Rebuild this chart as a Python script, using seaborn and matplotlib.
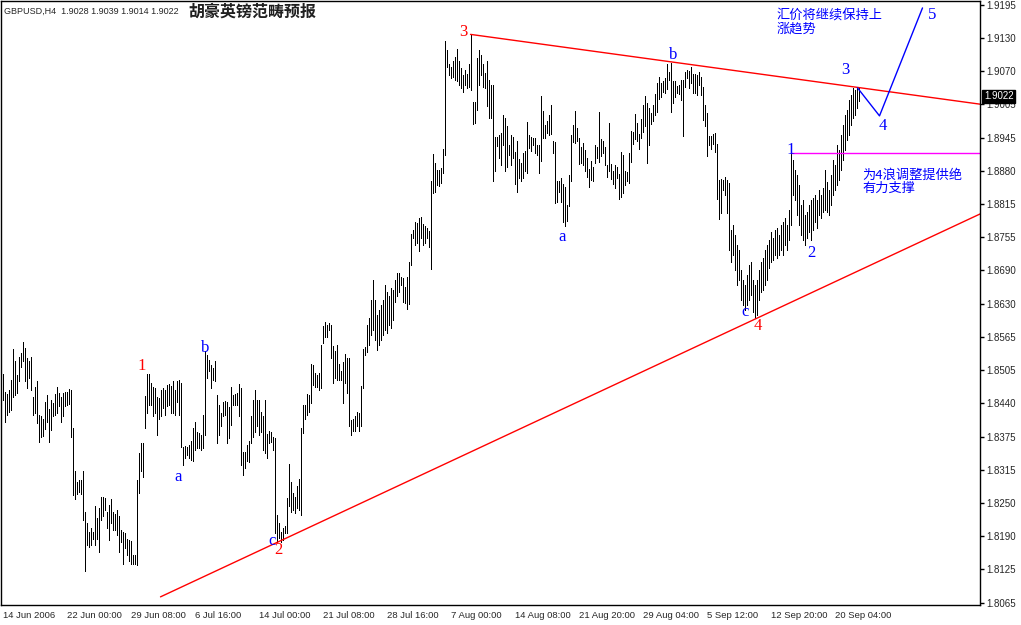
import numpy as np
import matplotlib
matplotlib.use('Agg')
import matplotlib.pyplot as plt
import matplotlib.transforms as mtransforms
import seaborn as sns

# H4 bars, high / low
highs = [
    1.8497, 1.8464, 1.8459, 1.8467, 1.8486, 1.8545, 1.8521, 1.8495, 1.8530, 1.8536,
    1.8558, 1.8546, 1.8528, 1.8521, 1.8529, 1.8454, 1.8473, 1.8484, 1.8419, 1.8417,
    1.8412, 1.8445, 1.8458, 1.8431, 1.8448, 1.8442, 1.8459, 1.8473, 1.8461, 1.8454,
    1.8461, 1.8463, 1.8463, 1.8469, 1.8467, 1.8395, 1.8314, 1.8294, 1.8297, 1.8297,
    1.8314, 1.8237, 1.8215, 1.8199, 1.8207, 1.8199, 1.8247, 1.8225, 1.8243, 1.8265,
    1.8265, 1.8262, 1.8237, 1.8250, 1.8261, 1.8237, 1.8233, 1.8240, 1.8228, 1.8202,
    1.8198, 1.8196,
    1.8185, 1.8184, 1.8182, 1.8155, 1.8155, 1.8297, 1.8347, 1.8366, 1.8366, 1.8456,
    1.8497, 1.8497, 1.8480, 1.8473, 1.8470, 1.8454, 1.8451, 1.8467, 1.8470, 1.8467,
    1.8477, 1.8478, 1.8475, 1.8483, 1.8467, 1.8483, 1.8486, 1.8480, 1.8360, 1.8362,
    1.8360, 1.8363, 1.8371, 1.8396, 1.8406, 1.8388, 1.8385, 1.8382, 1.8420, 1.8540,
    1.8533, 1.8524, 1.8514, 1.8508, 1.8521, 1.8458, 1.8439, 1.8423, 1.8445, 1.8446,
    1.8445, 1.8435, 1.8473, 1.8458, 1.8459, 1.8461, 1.8478, 1.8470, 1.8350, 1.8350,
    1.8363, 1.8371, 1.8418, 1.8448, 1.8467, 1.8448, 1.8448, 1.8426, 1.8417, 1.8448,
    1.8384, 1.8390, 1.8388, 1.8379, 1.8377, 1.8231, 1.8215, 1.8199, 1.8207, 1.8210,
    1.8262, 1.8328, 1.8294, 1.8272, 1.8265, 1.8286, 1.8298, 1.8396, 1.8439, 1.8439,
    1.8459, 1.8458, 1.8516, 1.8514, 1.8499, 1.8495, 1.8499, 1.8552, 1.8588, 1.8596,
    1.8590, 1.8594, 1.8590, 1.8550, 1.8541, 1.8552, 1.8517, 1.8502, 1.8519, 1.8535,
    1.8527, 1.8527, 1.8410, 1.8413, 1.8417, 1.8426, 1.8424, 1.8475, 1.8544, 1.8549,
    1.8590, 1.8603, 1.8637, 1.8675, 1.8637, 1.8609, 1.8618, 1.8628, 1.8637,
    1.8666, 1.8653, 1.8645, 1.8659, 1.8656, 1.8675, 1.8688, 1.8688, 1.8681, 1.8679,
    1.8662, 1.8681, 1.8708, 1.8761, 1.8770, 1.8785, 1.8782, 1.8792, 1.8793, 1.8780,
    1.8776, 1.8773, 1.8768, 1.8862, 1.8913, 1.8896, 1.8883, 1.8883, 1.8886, 1.8923,
    1.9127, 1.9110, 1.9083, 1.9078, 1.9088, 1.9097, 1.9112, 1.9089, 1.9075, 1.9063,
    1.9072, 1.9064, 1.9083, 1.9139, 1.9011, 1.9012, 1.9094, 1.9110, 1.9100, 1.9083,
    1.9066,
    1.9089, 1.9053, 1.9044, 1.9044, 1.8946, 1.8946, 1.8949, 1.8952, 1.8986, 1.8981,
    1.8965, 1.8930, 1.8949, 1.8946, 1.8916, 1.8937, 1.8904, 1.8896, 1.8914, 1.8918,
    1.8974, 1.8949, 1.8946, 1.8944, 1.8944, 1.8930, 1.8930, 1.9023, 1.8994, 1.8968,
    1.8976, 1.8987, 1.9006, 1.8937, 1.8935, 1.8862, 1.8862, 1.8867, 1.8856, 1.8851,
    1.8817, 1.8873, 1.8948, 1.8968, 1.8994, 1.8963, 1.8943, 1.8927, 1.8933, 1.8921,
    1.8905, 1.8885, 1.8899, 1.8889, 1.8930, 1.8927, 1.8992, 1.8942, 1.8937, 1.8927,
    1.8892, 1.8972, 1.8894, 1.8881, 1.8892, 1.8888, 1.8876, 1.8916, 1.8911, 1.8881,
    1.8878, 1.8914, 1.8957, 1.8955, 1.8989, 1.8972, 1.8951, 1.8980, 1.9006, 1.9023,
    1.9009, 1.8999, 1.8990, 1.9006, 1.9026, 1.9047, 1.9058, 1.9048, 1.9050, 1.9056,
    1.9083, 1.9068, 1.9085, 1.9050, 1.9050, 1.9042, 1.9044, 1.9053, 1.9052, 1.9068,
    1.9072, 1.9070, 1.9077, 1.9065, 1.9064, 1.9062, 1.9067, 1.9058, 1.9039, 1.9006,
    1.8990, 1.8947, 1.8947, 1.8951, 1.8952, 1.8932, 1.8864, 1.8865, 1.8863, 1.8869,
    1.8863, 1.8858,
    1.8769, 1.8779, 1.8760, 1.8741, 1.8731, 1.8694, 1.8675, 1.8665, 1.8684, 1.8703,
    1.8709, 1.8675, 1.8665, 1.8675, 1.8694, 1.8709, 1.8716, 1.8731, 1.8741, 1.8750,
    1.8765, 1.8754, 1.8769, 1.8773, 1.8760, 1.8779, 1.8784, 1.8792, 1.8779, 1.8807,
    1.8915, 1.8902, 1.8883, 1.8873, 1.8854, 1.8817, 1.8826, 1.8798, 1.8803, 1.8817,
    1.8826, 1.8830, 1.8835, 1.8826, 1.8845, 1.8835, 1.8849, 1.8883, 1.8860, 1.8845,
    1.8873, 1.8902, 1.8892, 1.8930, 1.8920, 1.8949, 1.8968, 1.8987, 1.8996, 1.9015,
    1.9024, 1.9038, 1.9034, 1.9038, 1.9039,
]

lows = [
    1.8448, 1.8406, 1.8419, 1.8425, 1.8429, 1.8453, 1.8458, 1.8461, 1.8483, 1.8511,
    1.8521, 1.8483, 1.8470, 1.8489, 1.8467, 1.8420, 1.8423, 1.8404, 1.8368, 1.8379,
    1.8380, 1.8393, 1.8407, 1.8368, 1.8391, 1.8417, 1.8420, 1.8423, 1.8437, 1.8407,
    1.8417, 1.8437, 1.8439, 1.8440, 1.8379, 1.8269, 1.8261, 1.8270, 1.8274, 1.8270,
    1.8221, 1.8125, 1.8174, 1.8171, 1.8174, 1.8185, 1.8174, 1.8185, 1.8161, 1.8221,
    1.8228, 1.8240, 1.8207, 1.8184, 1.8215, 1.8202, 1.8202, 1.8193, 1.8160, 1.8180,
    1.8139, 1.8168,
    1.8155, 1.8143, 1.8138, 1.8138, 1.8138, 1.8136, 1.8272, 1.8313, 1.8303, 1.8395,
    1.8423, 1.8439, 1.8439, 1.8417, 1.8423, 1.8382, 1.8413, 1.8417, 1.8432, 1.8420,
    1.8436, 1.8439, 1.8423, 1.8423, 1.8420, 1.8445, 1.8420, 1.8360, 1.8325, 1.8339,
    1.8344, 1.8338, 1.8335, 1.8332, 1.8354, 1.8357, 1.8357, 1.8354, 1.8357, 1.8382,
    1.8489, 1.8502, 1.8470, 1.8486, 1.8483, 1.8366, 1.8382, 1.8398, 1.8417, 1.8420,
    1.8366, 1.8376, 1.8401, 1.8439, 1.8439, 1.8439, 1.8417, 1.8325, 1.8306, 1.8319,
    1.8332, 1.8330, 1.8366, 1.8379, 1.8388, 1.8398, 1.8382, 1.8388, 1.8354, 1.8347,
    1.8338, 1.8366, 1.8369, 1.8354, 1.8196, 1.8180, 1.8187, 1.8180, 1.8184, 1.8196,
    1.8196, 1.8247, 1.8237, 1.8240, 1.8234, 1.8243, 1.8240, 1.8231, 1.8385, 1.8413,
    1.8420, 1.8426, 1.8442, 1.8476, 1.8473, 1.8472, 1.8467, 1.8470, 1.8555, 1.8568,
    1.8568, 1.8580, 1.8527, 1.8480, 1.8489, 1.8486, 1.8486, 1.8485, 1.8443, 1.8480,
    1.8462, 1.8399, 1.8382, 1.8390, 1.8390, 1.8398, 1.8390, 1.8399, 1.8470, 1.8533,
    1.8539, 1.8552, 1.8571, 1.8580, 1.8561, 1.8543, 1.8552, 1.8561, 1.8571,
    1.8580, 1.8575, 1.8590, 1.8585, 1.8600, 1.8634, 1.8644, 1.8653, 1.8666, 1.8634,
    1.8631, 1.8620, 1.8629, 1.8703, 1.8754, 1.8741, 1.8744, 1.8729, 1.8754, 1.8741,
    1.8744, 1.8754, 1.8738, 1.8696, 1.8839, 1.8842, 1.8855, 1.8853, 1.8858, 1.8877,
    1.8911, 1.9078, 1.9063, 1.9056, 1.9059, 1.9053, 1.9050, 1.9044, 1.9037, 1.9031,
    1.9044, 1.9037, 1.9040, 1.9034, 1.8969, 1.8971, 1.8996, 1.9044, 1.9063, 1.9039,
    1.9037,
    1.9003, 1.8981, 1.8981, 1.8862, 1.8880, 1.8929, 1.8905, 1.8892, 1.8930, 1.8881,
    1.8889, 1.8911, 1.8892, 1.8905, 1.8856, 1.8841, 1.8867, 1.8861, 1.8867, 1.8880,
    1.8877, 1.8924, 1.8919, 1.8930, 1.8914, 1.8911, 1.8877, 1.8900, 1.8944, 1.8944,
    1.8952, 1.8949, 1.8950, 1.8914, 1.8820, 1.8823, 1.8842, 1.8823, 1.8785, 1.8776,
    1.8787, 1.8814, 1.8861, 1.8935, 1.8933, 1.8937, 1.8894, 1.8896, 1.8892, 1.8880,
    1.8870, 1.8850, 1.8864, 1.8861, 1.8896, 1.8905, 1.8897, 1.8910, 1.8914, 1.8892,
    1.8870, 1.8881, 1.8865, 1.8856, 1.8848, 1.8867, 1.8827, 1.8832, 1.8840, 1.8854,
    1.8861, 1.8859, 1.8898, 1.8932, 1.8941, 1.8938, 1.8922, 1.8944, 1.8955, 1.8966,
    1.8895, 1.8930, 1.8970, 1.8976, 1.8987, 1.8993, 1.9016, 1.9020, 1.9031, 1.9029,
    1.9035, 1.9052, 1.8993, 1.9010, 1.9020, 1.9028, 1.9026, 1.9015, 1.8947, 1.9039,
    1.9056, 1.9037, 1.9048, 1.9029, 1.9028, 1.9024, 1.9043, 1.9024, 1.8977, 1.8965,
    1.8909, 1.8930, 1.8922, 1.8932, 1.8917, 1.8827, 1.8791, 1.8801, 1.8845, 1.8836,
    1.8802, 1.8732,
    1.8709, 1.8722, 1.8694, 1.8665, 1.8675, 1.8637, 1.8628, 1.8618, 1.8628, 1.8637,
    1.8646, 1.8614, 1.8603, 1.8609, 1.8637, 1.8652, 1.8656, 1.8665, 1.8675, 1.8697,
    1.8709, 1.8713, 1.8722, 1.8716, 1.8722, 1.8731, 1.8722, 1.8741, 1.8731, 1.8750,
    1.8779, 1.8835, 1.8826, 1.8798, 1.8779, 1.8760, 1.8750, 1.8741, 1.8754, 1.8765,
    1.8750, 1.8769, 1.8784, 1.8773, 1.8798, 1.8792, 1.8803, 1.8807, 1.8803, 1.8798,
    1.8817, 1.8835, 1.8845, 1.8854, 1.8864, 1.8883, 1.8902, 1.8920, 1.8939, 1.8949,
    1.8968, 1.8981, 1.8987, 1.9000, 1.9014,
]

time_labels = ['14 Jun 2006', '22 Jun 00:00', '29 Jun 08:00', '6 Jul 16:00',
               '14 Jul 00:00', '21 Jul 08:00', '28 Jul 16:00', '7 Aug 00:00',
               '14 Aug 08:00', '21 Aug 20:00', '29 Aug 04:00', '5 Sep 12:00',
               '12 Sep 20:00', '20 Sep 04:00']
price_labels = ['1.9195', '1.9130', '1.9070', '1.9005', '1.8945', '1.8880', '1.8815',
                '1.8755', '1.8690', '1.8630', '1.8565', '1.8505', '1.8440', '1.8375',
                '1.8315', '1.8250', '1.8190', '1.8125', '1.8065']

# trend lines: (bar index, price) anchor points
resistance = ([234, 489], [1.9139, 1.9007])
support = ([79, 489], [1.8076, 1.8800])
wave1_level = ([394, 489], [1.8915, 1.8915])
forecast = ([427.5, 438.5, 460], [1.9038, 1.8985, 1.9189])

# Elliott wave labels
red_labels = [('1', 69.5, 1.8512), ('2', 138, 1.8164), ('3', 230.5, 1.9144), ('4', 377.5, 1.8588)]
blue_labels = [('a', 88, 1.8303), ('b', 101.5, 1.8546), ('c', 135, 1.8182),
               ('a', 280, 1.8756), ('b', 335.5, 1.9100), ('c', 371.5, 1.8614),
               ('1', 394, 1.8920), ('2', 404.5, 1.8726), ('3', 421.5, 1.9072),
               ('4', 440, 1.8966), ('5', 465, 1.9176)]

sns.set_style('white')
plt.rcParams['font.family'] = ['Liberation Sans', 'Noto Sans CJK SC']

W, H = 1021, 625
fig = plt.figure(figsize=(W / 100, H / 100), dpi=100)
ax = fig.add_axes([0.5 / W, 1 - 605 / H, 979.5 / W, 604 / H])
ax.set_xlim(-1.0, 488.75)
ax.set_ylim(1.80606, 1.92021)

idx = np.arange(len(highs))
ax.vlines(idx, lows, highs, colors='black', linewidth=0.6, antialiased=False)

sns.lineplot(x=resistance[0], y=resistance[1], ax=ax, color='red', linewidth=1)
sns.lineplot(x=support[0], y=support[1], ax=ax, color='red', linewidth=1)
sns.lineplot(x=wave1_level[0], y=wave1_level[1], ax=ax, color='#ff00ff', linewidth=1)
sns.lineplot(x=forecast[0], y=forecast[1], ax=ax, color='blue', linewidth=1, sort=False)

for t, x, y in red_labels:
    ax.text(x, y, t, color='red', fontsize=12, family='Liberation Serif', ha='center', va='center')
for t, x, y in blue_labels:
    ax.text(x, y, t, color='blue', fontsize=12, family='Liberation Serif', ha='center', va='center')

ax.text(387, 1.9162, '汇价将继续保持上\n涨趋势', color='blue', fontsize=9.5,
        family='Noto Sans CJK SC', ha='left', va='center', linespacing=1.05)
ax.text(430, 1.8860, '为4浪调整提供绝\n有力支撑', color='blue', fontsize=9.5,
        family='Noto Sans CJK SC', ha='left', va='center', linespacing=1.05)

ax.set_xticks(np.arange(len(time_labels)) * 32)
ax.set_xticklabels(time_labels, ha='left', fontsize=6.8)
ax.set_yticks(np.linspace(1.9195, 1.8065, len(price_labels)))
ax.set_yticklabels(price_labels, fontsize=7)
ax.yaxis.tick_right()
ax.tick_params(axis='both', direction='out', length=3, width=1, color='black', pad=1.5)
for s in ax.spines.values():
    s.set_color('black')
    s.set_linewidth(1)

# current price box on the right axis
trans = mtransforms.blended_transform_factory(ax.transAxes, ax.transData)
ax.text(1.004, 1.9022, '1.9022', transform=trans, color='white', fontsize=7, ha='left', va='center',
        bbox=dict(facecolor='black', edgecolor='black', boxstyle='square,pad=0.15'))

fig.text(4 / W, 1 - 11 / H, 'GBPUSD,H4  1.9028 1.9039 1.9014 1.9022', fontsize=6.5, ha='left', va='center')
fig.text(188 / W, 1 - 12 / H, '胡豪英镑范畴预报', fontsize=11.5, weight='bold',
         family='Noto Sans CJK SC', ha='left', va='center', color='#202020')

fig.savefig('out.png', dpi=100, facecolor='white')
